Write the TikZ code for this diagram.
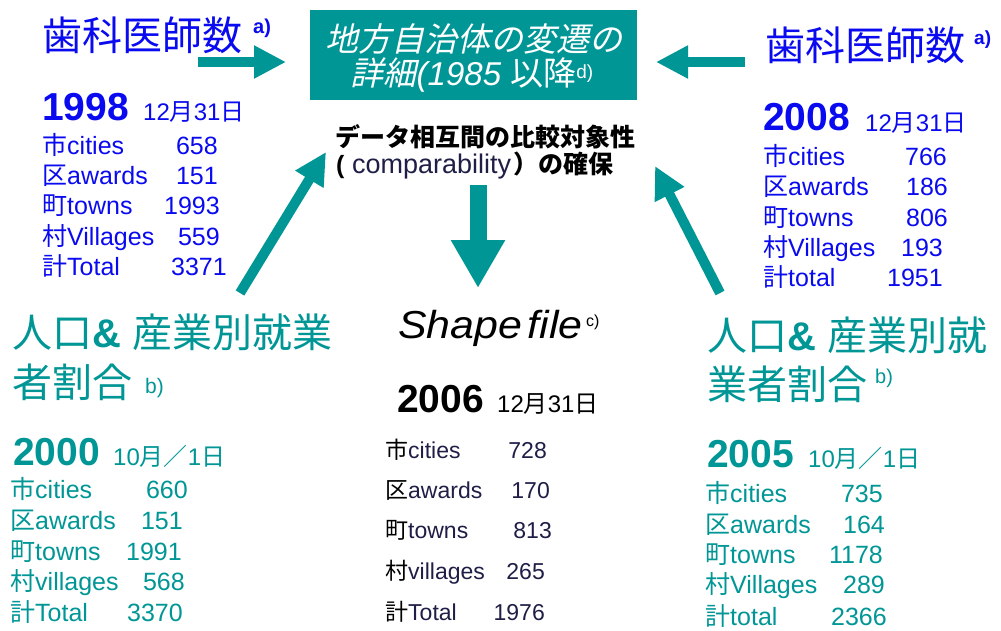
\documentclass[tikz,border=0pt]{standalone}
\usepackage{fontspec}
\setmainfont{Liberation Sans}
\newfontfamily\jp{Noto Sans CJK JP}
\newfontfamily\jpsl{Noto Sans CJK JP}[FakeSlant=0.22]
\usetikzlibrary{arrows.meta}
\definecolor{dblue}{RGB}{10,10,240}
\definecolor{tealc}{RGB}{0,150,150}
\definecolor{navyc}{RGB}{30,30,70}
\newcommand\fs[1]{\fontsize{#1}{#1}\selectfont}
\tikzset{
  lab/.style={inner sep=0pt, anchor=base west},
  num/.style={inner sep=0pt, anchor=base east},
  fat/.style={draw=tealc, line width=10pt, -{Triangle[width=31pt,length=32pt]}},
  big/.style={draw=tealc, line width=17pt, -{Triangle[width=51pt,length=48pt]}},
  blue25/.style={lab, text=dblue, font=\fs{25}},
  bnum/.style={num, text=dblue, font=\fs{25}},
  teal25/.style={lab, text=tealc, font=\fs{25}},
  tnum/.style={num, text=tealc, font=\fs{25}},
  blk23/.style={lab, text=navyc, font=\fs{23}},
  knum/.style={num, text=navyc, font=\fs{23}},
  kj/.style={lab, text=black, font=\fs{23}\jp},
}
\begin{document}
\begin{tikzpicture}[x=1pt,y=-1pt]
\useasboundingbox[fill=white] (0,0) rectangle (1001,630);

% ---------- central box ----------
\node[fill=tealc, minimum width=327pt, minimum height=90pt, inner sep=0pt, anchor=north west] (box) at (310,10) {};
\node[inner sep=0pt, anchor=base, text=white] (box1) at (474,51) {\fs{33}\jpsl 地方自治体の変遷の};
\node[inner sep=0pt, anchor=base, text=white] (box2) at (472,85) {\fs{33}{\jpsl 詳細}\textit{(1985} {\jp 以降}\raisebox{7pt}{\fs{19}d)}};

\node[lab, text=black] (cmp1) at (335,146) {\fs{25}\jp\bfseries データ相互間の比較対象性};
\node[lab, text=black] (cmpL) at (336,173) {\fs{25}\bfseries (};
\node[lab, text=navyc] (cmpM) at (352,173) {\fs{27}comparability};
\node[lab, text=black] (cmpR) at (513,173) {\fs{25}\jp\bfseries ）の確保};

% ---------- top left ----------
\node[lab, text=dblue] (tlt) at (42,50) {\fs{40}\jp 歯科医師数};
\node[lab, text=dblue] (tls) at (253,33) {\fs{20}\bfseries a)};
\node[lab, text=dblue] (tly) at (42,120) {\fs{39}\bfseries 1998};
\node[lab, text=dblue] (tld) at (143,120) {\fs{24}12{\jp 月}31{\jp 日}};
\node[blue25] (tl1) at (42,154) {{\jp 市}cities};
\node[bnum] (tl1n) at (218,154) {658};
\node[blue25] (tl2) at (42,184) {{\jp 区}awards};
\node[bnum] (tl2n) at (218,184) {151};
\node[blue25] (tl3) at (42,214) {{\jp 町}towns};
\node[bnum] (tl3n) at (220,214) {1993};
\node[blue25] (tl4) at (42,245) {{\jp 村}Villages};
\node[bnum] (tl4n) at (220,245) {559};
\node[blue25] (tl5) at (42,275) {{\jp 計}Total};
\node[bnum] (tl5n) at (227,275) {3371};

% ---------- top right ----------
\node[lab, text=dblue] (trt) at (765,60) {\fs{40}\jp 歯科医師数};
\node[lab, text=dblue] (trs) at (974,44) {\fs{19}\bfseries a)};
\node[lab, text=dblue] (try) at (763,130) {\fs{39}\bfseries 2008};
\node[lab, text=dblue] (trd) at (865,131) {\fs{24}12{\jp 月}31{\jp 日}};
\node[blue25] (tr1) at (763,165) {{\jp 市}cities};
\node[bnum] (tr1n) at (947,165) {766};
\node[blue25] (tr2) at (763,195) {{\jp 区}awards};
\node[bnum] (tr2n) at (948,195) {186};
\node[blue25] (tr3) at (763,226) {{\jp 町}towns};
\node[bnum] (tr3n) at (948,226) {806};
\node[blue25] (tr4) at (763,256) {{\jp 村}Villages};
\node[bnum] (tr4n) at (943,256) {193};
\node[blue25] (tr5) at (763,286) {{\jp 計}total};
\node[bnum] (tr5n) at (943,286) {1951};

% ---------- bottom left ----------
\node[lab, text=tealc] (blt1) at (12,347) {\fs{40}{\jp 人口}\textbf{\&} {\jp 産業別就業}};
\node[lab, text=tealc] (blt2) at (12,397) {\fs{40}\jp 者割合};
\node[lab, text=tealc] (bls) at (145,393) {\fs{21}b)};
\node[lab, text=tealc] (bly) at (13,465) {\fs{39}\bfseries 2000};
\node[lab, text=tealc] (bld) at (113,465) {\fs{24}10{\jp 月／}1{\jp 日}};
\node[teal25] (bl1) at (10,498) {{\jp 市}cities};
\node[tnum] (bl1n) at (188,498) {660};
\node[teal25] (bl2) at (10,529) {{\jp 区}awards};
\node[tnum] (bl2n) at (183,529) {151};
\node[teal25] (bl3) at (10,560) {{\jp 町}towns};
\node[tnum] (bl3n) at (182,560) {1991};
\node[teal25] (bl4) at (10,590) {{\jp 村}villages};
\node[tnum] (bl4n) at (185,590) {568};
\node[teal25] (bl5) at (10,621) {{\jp 計}Total};
\node[tnum] (bl5n) at (183,621) {3370};

% ---------- bottom right ----------
\node[lab, text=tealc] (brt1) at (707,350) {\fs{40}{\jp 人口}\textbf{\&} {\jp 産業別就}};
\node[lab, text=tealc] (brt2) at (707,399) {\fs{40}\jp 業者割合};
\node[lab, text=tealc] (brs) at (875,383) {\fs{20}b)};
\node[lab, text=tealc] (bry) at (707,467) {\fs{39}\bfseries 2005};
\node[lab, text=tealc] (brd) at (808,467) {\fs{24}10{\jp 月／}1{\jp 日}};
\node[teal25] (br1) at (705,502) {{\jp 市}cities};
\node[tnum] (br1n) at (883,502) {735};
\node[teal25] (br2) at (705,533) {{\jp 区}awards};
\node[tnum] (br2n) at (885,533) {164};
\node[teal25] (br3) at (705,563) {{\jp 町}towns};
\node[tnum] (br3n) at (883,563) {1178};
\node[teal25] (br4) at (705,593) {{\jp 村}Villages};
\node[tnum] (br4n) at (885,593) {289};
\node[teal25] (br5) at (705,625) {{\jp 計}total};
\node[tnum] (br5n) at (887,625) {2366};

% ---------- bottom centre ----------
\node[lab, text=black] (sft) at (398,338) {\scalebox{1.1}[1]{\fs{39}\itshape Shape\hspace{5pt}file}};
\node[lab, text=black] (sfs) at (586,326) {\fs{16}c)};
\node[lab, text=black] (sfy) at (397,412) {\fs{39}\bfseries 2006};
\node[lab, text=black] (sfd) at (497,412) {\fs{24}12{\jp 月}31{\jp 日}};
\node[kj] (bc1k) at (385,458) {市};
\node[blk23] (bc1) at (408,458) {cities};
\node[knum] (bc1n) at (547,458) {728};
\node[kj] (bc2k) at (385,498) {区};
\node[blk23] (bc2) at (408,498) {awards};
\node[knum] (bc2n) at (550,498) {170};
\node[kj] (bc3k) at (385,538) {町};
\node[blk23] (bc3) at (408,538) {towns};
\node[knum] (bc3n) at (552,538) {813};
\node[kj] (bc4k) at (385,579) {村};
\node[blk23] (bc4) at (408,579) {villages};
\node[knum] (bc4n) at (545,579) {265};
\node[kj] (bc5k) at (385,620) {計};
\node[blk23] (bc5) at (408,620) {Total};
\node[knum] (bc5n) at (545,620) {1976};

% ---------- arrows ----------
\coordinate (aTLs) at (198,62);
\coordinate (aTLe) at (286,62);
\coordinate (aTRs) at (745,62);
\coordinate (aTRe) at (656,62);
\coordinate (aBLs) at (240,293);
\coordinate (aBLe) at (326,152);
\coordinate (aBRs) at (720,293);
\coordinate (aBRe) at (655,166);
\coordinate (aDs) at (478,185);
\coordinate (aDe) at (478,288);
\draw[fat] (aTLs) -- (aTLe);
\draw[fat] (aTRs) -- (aTRe);
\draw[fat] (aBLs) -- (aBLe);
\draw[fat] (aBRs) -- (aBRe);
\draw[big] (aDs) -- (aDe);
\end{tikzpicture}
\end{document}
